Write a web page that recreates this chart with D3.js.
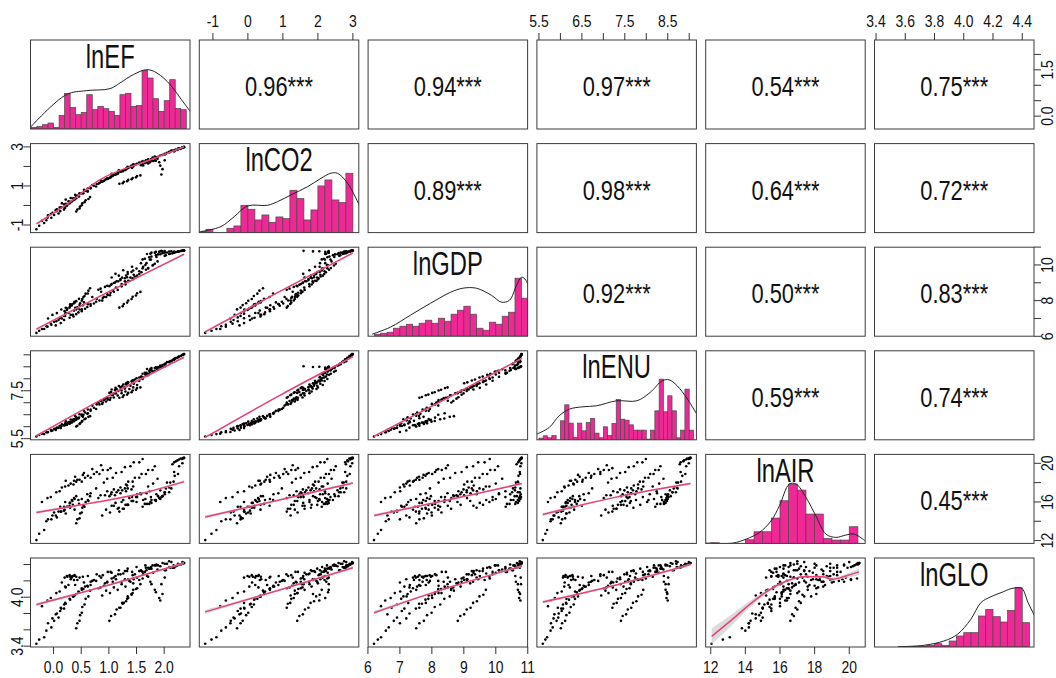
<!DOCTYPE html>
<html>
<head>
<meta charset="utf-8">
<script src="https://cdn.jsdelivr.net/npm/d3@7"></script>
<style>body{margin:0;background:#fff}</style>
</head>
<body>
<div id="chart"></div>
<script>
// variables of the scatterplot matrix
const vars = ["lnEF", "lnCO2", "lnGDP", "lnENU", "lnAIR", "lnGLO"];

const lnEF = [
  -0.31,-0.26,-0.17,-0.13,-0.04,0.01,0.09,0.12,0.19,0.21,
  0.36,0.41,0.51,0.57,0.67,0.73,0.83,0.89,0.98,1.03,
  0.20,0.24,0.25,0.29,0.30,0.33,0.34,0.37,0.38,0.41,
  0.41,0.43,0.47,0.48,0.51,0.52,0.56,0.58,0.63,0.66,
  0.04,0.13,0.19,0.29,0.35,0.45,0.51,0.61,0.67,0.77,
  0.81,0.85,0.93,0.97,1.05,1.09,1.17,1.21,1.29,1.33,
  1.19,1.25,1.27,1.33,1.35,1.41,1.43,1.49,1.51,1.57,
  1.31,1.35,1.43,1.47,1.55,1.59,1.67,1.71,1.79,1.83,
  1.61,1.65,1.73,1.77,1.85,1.89,1.97,2.01,2.09,2.13,
  2.01,2.03,2.09,2.11,2.17,2.19,2.25,2.27,2.33,2.36,
  1.69,1.75,1.77,1.83,1.85,1.91,1.93,1.97,1.95,2.01,
  0.91,0.97,1.07,1.13,1.23,1.29,1.39,1.45,1.55,1.61,
  1.01,1.04,1.11,1.14,1.21,1.24,1.31,1.34,1.41,1.44,
  -0.21,-0.11,-0.05,0.05,0.11,0.21,0.27,0.37,0.43,0.53,
  1.62,1.68,1.71,1.76,1.80,1.86,1.88,1.93,2.05,2.18,
  0.15,0.22,0.31,0.39,0.47,0.55,0.62,0.70,0.78,0.86,
  1.05,1.12,1.18,1.26,1.34,1.42,1.50,1.58,1.66,1.74,
  -0.10,-0.02,0.06,0.14,0.22,0.30,0.38,0.46,0.54,0.62,
  0.88,0.95,1.02,1.09,1.16,1.23,1.30,1.37,1.44,1.51,
  2.15,2.18,2.21,2.24,2.27,2.30,2.32,2.34,2.35,2.36
];
const lnCO2 = [
  -1.22,-1.04,-0.90,-0.76,-0.63,-0.49,-0.41,-0.29,-0.21,-0.11,
  0.36,0.47,0.63,0.75,0.91,1.01,1.15,1.24,1.36,1.43,
  -0.11,-0.01,0.04,0.11,0.14,0.21,0.23,0.29,0.31,0.37,
  -0.31,-0.21,-0.15,-0.05,0.01,0.11,0.17,0.27,0.33,0.43,
  -0.24,-0.11,0.06,0.19,0.36,0.49,0.63,0.73,0.87,0.97,
  1.11,1.19,1.31,1.39,1.51,1.57,1.67,1.73,1.83,1.89,
  1.11,1.14,1.21,1.24,1.31,1.34,1.41,1.44,1.51,1.54,
  1.86,1.92,2.02,2.08,2.18,2.23,2.32,2.37,2.46,2.51,
  2.11,2.17,2.27,2.33,2.43,2.49,2.59,2.65,2.75,2.81,
  2.61,2.64,2.71,2.74,2.81,2.84,2.91,2.93,2.98,3.00,
  2.21,2.24,2.31,2.31,2.29,2.21,2.04,1.86,1.59,2.31,
  1.26,1.37,1.51,1.61,1.75,1.85,1.98,2.07,2.19,2.27,
  1.41,1.47,1.57,1.63,1.73,1.79,1.89,1.95,2.05,2.11,
  -0.79,-0.63,-0.44,-0.29,-0.11,0.04,0.21,0.34,0.51,0.64,
  2.05,2.21,2.15,2.36,2.28,2.47,2.39,2.56,2.70,2.78,
  0.12,0.30,0.38,0.55,0.62,0.80,0.88,1.05,1.10,1.28,
  1.62,1.58,1.80,1.76,1.98,1.92,2.12,2.06,2.26,2.20,
  -0.50,-0.38,-0.20,-0.10,0.08,0.18,0.36,0.46,0.62,0.72,
  1.22,1.34,1.42,1.56,1.62,1.76,1.82,1.96,2.00,2.14,
  2.80,2.78,2.86,2.84,2.92,2.90,2.96,2.95,2.99,2.98
];
const lnGDP = [
  6.19,6.31,6.41,6.56,6.65,6.81,6.91,7.06,7.14,7.26,
  7.11,7.24,7.41,7.54,7.71,7.84,8.01,8.14,8.31,8.44,
  7.41,7.47,7.56,7.61,7.69,7.73,7.81,7.85,7.93,7.97,
  7.51,7.61,7.75,7.85,7.99,8.09,8.26,8.39,8.56,8.69,
  6.61,6.74,6.91,7.04,7.21,7.34,7.51,7.64,7.81,7.94,
  8.61,8.67,8.77,8.83,8.93,8.99,9.09,9.15,9.25,9.31,
  7.61,7.69,7.81,7.89,8.01,8.09,8.21,8.29,8.41,8.49,
  9.01,9.11,9.25,9.35,9.49,9.59,9.73,9.83,9.97,10.07,
  10.31,10.35,10.43,10.47,10.55,10.59,10.66,10.69,10.75,10.77,
  10.51,10.54,10.61,10.63,10.69,10.71,10.76,10.77,10.80,10.81,
  10.61,10.63,10.69,10.69,10.73,10.73,10.77,10.76,10.79,10.78,
  8.21,8.37,8.57,8.73,8.93,9.09,9.29,9.45,9.65,9.81,
  8.81,8.89,9.01,9.09,9.21,9.29,9.41,9.49,9.61,9.69,
  6.41,6.54,6.71,6.84,7.01,7.14,7.31,7.44,7.61,7.74,
  9.90,10.10,9.80,10.30,10.00,10.45,10.20,10.60,10.70,10.75,
  7.00,7.30,7.20,7.60,7.50,7.90,7.80,8.20,8.10,8.50,
  9.30,9.50,9.40,9.70,9.60,9.90,9.80,10.10,10.00,10.30,
  7.00,7.20,7.30,7.50,7.60,7.80,7.90,8.10,8.20,8.40,
  8.00,8.20,8.30,8.50,8.60,8.80,8.90,9.10,9.20,9.40,
  10.65,10.70,10.72,10.74,10.76,10.78,10.79,10.80,10.80,10.81
];
const lnENU = [
  5.59,5.65,5.69,5.77,5.82,5.91,5.95,6.03,6.06,6.13,
  6.31,6.39,6.51,6.59,6.71,6.79,6.93,7.01,7.13,7.21,
  6.06,6.07,6.11,6.12,6.17,6.17,6.22,6.23,6.28,6.29,
  6.01,6.04,6.11,6.14,6.21,6.24,6.31,6.34,6.41,6.44,
  5.86,5.94,6.06,6.14,6.26,6.34,6.46,6.54,6.66,6.74,
  7.01,7.07,7.17,7.23,7.33,7.39,7.49,7.55,7.65,7.71,
  7.21,7.24,7.31,7.34,7.41,7.44,7.51,7.54,7.61,7.64,
  7.81,7.85,7.93,7.97,8.05,8.09,8.17,8.21,8.29,8.33,
  8.21,8.25,8.33,8.37,8.45,8.49,8.57,8.61,8.69,8.73,
  8.61,8.64,8.71,8.74,8.81,8.84,8.91,8.93,8.99,9.03,
  8.41,8.41,8.45,8.45,8.48,8.47,8.50,8.49,8.52,8.51,
  7.11,7.19,7.31,7.39,7.51,7.59,7.71,7.79,7.91,7.99,
  7.41,7.45,7.53,7.57,7.65,7.69,7.77,7.81,7.89,7.93,
  5.71,5.77,5.87,5.93,6.03,6.09,6.19,6.25,6.35,6.41,
  8.05,8.25,8.15,8.35,8.30,8.45,8.40,8.55,8.70,8.80,
  6.10,6.22,6.30,6.45,6.52,6.66,6.72,6.88,6.93,7.08,
  7.55,7.62,7.70,7.76,7.86,7.92,8.02,8.08,8.18,8.24,
  5.78,5.84,5.96,6.02,6.14,6.20,6.32,6.38,6.50,6.56,
  6.95,7.05,7.12,7.22,7.30,7.40,7.47,7.57,7.64,7.74,
  8.78,8.80,8.86,8.88,8.93,8.95,8.99,9.00,9.02,9.03
];
const lnAIR = [
  12.05,12.7,13.1,14.0,14.2,14.9,15.0,15.5,15.5,16.0,
  17.8,18.1,18.1,18.5,18.5,18.9,18.9,19.3,19.3,19.5,
  15.2,15.5,15.5,15.9,15.9,16.2,16.1,16.4,16.3,16.6,
  13.8,14.2,14.3,14.8,14.9,15.4,15.5,16.0,16.1,16.6,
  14.6,15.0,15.1,15.6,15.7,16.2,16.3,16.8,16.9,17.4,
  16.4,16.7,16.7,17.1,17.0,17.3,17.2,17.5,17.4,17.7,
  15.0,15.3,15.3,15.7,15.7,16.1,16.1,16.5,16.5,16.9,
  17.8,18.1,18.1,18.5,18.5,18.9,18.9,19.3,19.3,19.7,
  15.5,15.8,15.8,16.2,16.2,16.6,16.6,17.0,17.0,17.4,
  17.0,17.4,17.5,18.0,18.1,18.7,18.9,19.7,20.0,20.58,
  15.8,16.0,15.9,16.2,16.1,16.4,16.3,16.6,16.5,16.8,
  18.0,18.4,18.5,19.0,19.1,19.6,19.7,20.1,20.1,20.45,
  16.6,16.8,16.7,17.0,16.9,17.2,17.1,17.4,17.3,17.6,
  16.0,16.4,16.5,17.0,17.1,17.6,17.7,18.2,18.3,18.8,
  16.2,16.9,17.6,16.5,17.9,16.8,18.4,17.2,18.0,19.1,
  17.5,18.2,17.9,18.6,18.3,19.0,18.7,19.4,19.1,19.8,
  15.6,15.9,15.4,16.2,15.7,16.5,16.0,16.8,16.3,17.1,
  14.2,14.6,14.4,15.0,14.8,15.4,15.2,15.8,15.6,16.2,
  14.6,15.2,14.9,15.6,15.3,16.0,15.7,16.4,16.1,16.8,
  19.9,20.1,20.2,20.3,20.4,20.5,20.45,20.55,20.5,20.58
];
const lnGLO = [
  3.43,3.48,3.51,3.59,3.63,3.71,3.75,3.83,3.86,3.93,
  4.01,4.04,4.11,4.13,4.19,4.21,4.26,4.27,4.31,4.31,
  4.24,4.26,4.25,4.27,4.25,4.24,4.26,4.26,4.27,4.25,
  3.62,3.68,3.71,3.78,3.81,3.88,3.91,3.98,4.01,4.08,
  3.79,3.87,3.91,3.98,4.01,4.07,4.09,4.14,4.15,4.20,
  4.11,4.12,4.17,4.18,4.23,4.24,4.28,4.28,4.32,4.32,
  3.87,3.92,3.93,3.98,3.99,4.04,4.05,4.10,4.11,4.16,
  4.21,4.22,4.27,4.28,4.32,4.32,4.36,4.36,4.39,4.39,
  4.31,4.31,4.35,4.35,4.39,4.39,4.42,4.41,4.44,4.43,
  4.33,4.33,4.37,4.36,4.39,4.38,4.41,4.40,4.43,4.42,
  4.26,4.19,4.16,4.09,4.06,3.99,3.96,4.04,4.16,4.24,
  4.14,4.19,4.19,4.22,4.19,4.22,4.19,4.22,4.21,4.23,
  3.71,3.77,3.79,3.85,3.87,3.93,3.95,4.01,4.03,4.09,
  3.89,3.96,3.99,4.05,4.07,4.13,4.15,4.21,4.21,4.25,
  4.28,4.33,4.25,4.37,4.30,4.40,4.34,4.38,4.41,4.36,
  4.18,4.12,4.22,4.15,4.24,4.18,4.26,4.20,4.28,4.24,
  4.30,4.26,4.33,4.29,4.35,4.31,4.37,4.33,4.39,4.35,
  3.68,3.74,3.80,3.86,3.92,3.97,4.02,4.06,4.10,4.13,
  4.02,4.08,4.05,4.12,4.09,4.16,4.13,4.20,4.17,4.24,
  4.36,4.37,4.38,4.39,4.40,4.40,4.41,4.41,4.42,4.42
];

// histogram bars on the diagonal (bin start, bin width, bar heights)
const histStart = [-0.4, -1.4, 6.2, 5.5, 12.0, 3.55];
const histStep = [0.1, 0.2, 0.2, 0.1, 0.5, 0.05];
const histEF = [5,8,13,18,5,41,107,65,43,50,103,58,68,61,53,41,103,107,68,71,176,153,91,53,85,148,62,58];
const histCO2 = [3,10,0,0,13,20,82,70,38,53,31,47,42,127,102,38,68,140,158,98,90,178];
const histGDP = [6,9,12,24,30,36,30,39,48,39,54,45,66,78,90,66,24,18,42,36,60,72,174,114];
const histENU = [5,12,6,13,0,57,105,50,7,50,27,52,64,20,6,39,13,49,121,62,59,45,29,29,29,2,29,87,182,84,132,87,6,29,152,29];
const histAIR = [2,0,0,0,11,35,35,76,128,178,160,88,88,15,10,10,50];
const histGLO = [1,1,2,3,5,10,5,18,33,43,43,93,113,91,75,110,178,73];

// density curves on the diagonal [value, height]
const densEF = [[-0.42,5],[0.23,103],[0.59,115],[1.02,121],[1.2,138],[1.44,163],[1.69,178],[1.87,168],[2.11,133],[2.29,93],[2.47,53]];
const densCO2 = [[-1.34,3],[-0.77,18],[-0.39,48],[-0.01,80],[0.56,82],[0.85,93],[1.23,113],[1.71,138],[2.09,163],[2.37,178],[2.56,178],[2.85,148],[3.2,78]];
const densGDP = [[6.13,6],[6.7,27],[7.33,63],[7.96,99],[8.59,132],[8.97,144],[9.39,144],[9.86,123],[10.18,102],[10.43,108],[10.65,153],[10.81,177],[10.94,168],[11.07,132]];
const densENU = [[5.45,17],[5.74,37],[5.97,72],[6.21,92],[6.52,99],[6.84,102],[7.31,117],[7.78,117],[8.09,142],[8.37,177],[8.53,180],[8.72,162],[8.96,122],[9.2,72]];
const densAIR = [[11.75,1],[13.28,1],[14.05,13],[14.82,33],[15.49,68],[15.97,113],[16.54,178],[16.93,178],[17.5,138],[18.07,83],[18.65,28],[19.22,18],[19.8,25],[20.28,28],[20.91,8]];
const densGLO = [[3.554,1],[3.726,5],[3.864,18],[3.957,38],[4.048,83],[4.117,133],[4.186,151],[4.255,163],[4.324,175],[4.37,178],[4.4,175],[4.44,133],[4.485,93]];

// smoothing lines in the lower panels [x, y, band half-width]
const smoothLines = [
  {x: "lnEF", y: "lnCO2", pts: [[-0.31,-0.94,0.05],[0.23,0.04,0.02],[0.84,1.32,0.02],[1.75,2.34,0.02],[2.36,3.0,0.04]]},
  {x: "lnEF", y: "lnGDP", pts: [[-0.31,6.4,0.06],[1.0,8.5,0.03],[2.36,10.6,0.05]]},
  {x: "lnEF", y: "lnENU", pts: [[-0.31,5.62,0.04],[1.0,7.3,0.02],[2.36,8.9,0.03]]},
  {x: "lnEF", y: "lnAIR", pts: [[-0.31,14.9,0.15],[0.5,15.7,0.08],[1.0,16.2,0.08],[1.6,16.9,0.08],[2.36,18.1,0.15]]},
  {x: "lnEF", y: "lnGLO", pts: [[-0.31,3.91,0.02],[1.0,4.15,0.01],[2.36,4.42,0.015]]},
  {x: "lnCO2", y: "lnGDP", pts: [[-1.22,6.25,0.07],[0.9,8.5,0.03],[3.0,10.67,0.05]]},
  {x: "lnCO2", y: "lnENU", pts: [[-1.22,5.55,0.04],[0.9,7.3,0.02],[3.0,8.92,0.03]]},
  {x: "lnCO2", y: "lnAIR", pts: [[-1.22,14.44,0.15],[0.9,16.2,0.08],[3.0,17.96,0.12]]},
  {x: "lnCO2", y: "lnGLO", pts: [[-1.22,3.82,0.025],[1.0,4.1,0.01],[3.0,4.36,0.015]]},
  {x: "lnGDP", y: "lnENU", pts: [[6.19,5.6,0.04],[8.5,7.2,0.02],[10.81,8.85,0.03]]},
  {x: "lnGDP", y: "lnAIR", pts: [[6.19,14.6,0.15],[8.5,16.2,0.08],[10.81,17.9,0.12]]},
  {x: "lnGDP", y: "lnGLO", pts: [[6.19,3.81,0.02],[8.3,4.09,0.01],[10.81,4.38,0.015]]},
  {x: "lnENU", y: "lnAIR", pts: [[5.59,14.7,0.15],[7.3,16.5,0.08],[9.03,17.9,0.12]]},
  {x: "lnENU", y: "lnGLO", pts: [[5.59,3.94,0.02],[7.3,4.15,0.01],[9.03,4.4,0.015]]},
  {x: "lnAIR", y: "lnGLO", pts: [[12.05,3.52,0.1],[13.09,3.7,0.07],[14.24,3.91,0.04],[15.39,4.09,0.02],[16.54,4.21,0.01],[17.3,4.25,0.01],[18.45,4.25,0.015],[19.02,4.22,0.02],[19.8,4.26,0.025],[20.56,4.31,0.04]]}
];

// correlation coefficients in the upper panels, row by row
const corrValues = [0.96,0.94,0.97,0.54,0.75, 0.89,0.98,0.64,0.72, 0.92,0.50,0.83, 0.59,0.74, 0.45];
const corrStars = ["***","***","***","***","***", "***","***","***","***", "***","***","***", "***","***", "***"];

// axis ticks and labels
const axisTicks = [[0,0.5,1,1.5,2], [-1,0,1,2,3], [6,7,8,9,10,11], [5.5,6,6.5,7,7.5,8,8.5,9], [12,14,16,18,20], [3.4,3.6,3.8,4.0,4.2,4.4]];
const xLabels = [[0,0.5,1,1.5,2], [-1,0,1,2,3], [6,7,8,9,10,11], [5.5,6.5,7.5,8.5], [12,14,16,18,20], [3.4,3.6,3.8,4.0,4.2,4.4]];
const yLabels = [[0,1.5], [-1,1,3], [6,8,10], [5.5,7.5], [12,16,20], [3.4,4.0]];
const labelFormat = [".1f", "d", "d", ".1f", "d", ".1f"];

const W = 1056, H = 678;
const left = 30.5, top0 = 40, stepX = 168.8, stepY = 103.6, pw = 159.5, ph = 89;
const font = "Liberation Sans, Arial, sans-serif";
const pink = "#ef2896";

const series = {lnEF, lnCO2, lnGDP, lnENU, lnAIR, lnGLO};
const hists = [histEF, histCO2, histGDP, histENU, histAIR, histGLO];
const dens = [densEF, densCO2, densGDP, densENU, densAIR, densGLO];
const n = lnEF.length;

const svg = d3.select("#chart").append("svg")
    .attr("width", W)
    .attr("height", H);

// scales (4% padding like base R)
let xs = {}, ys = {};
vars.forEach(function (v, i) {
    let ext = d3.extent(series[v]);
    let pad = (ext[1] - ext[0]) * 0.04;
    xs[v] = d3.scaleLinear().domain([ext[0] - pad, ext[1] + pad]).range([left + i * stepX, left + i * stepX + pw]);
    ys[v] = d3.scaleLinear().domain([ext[0] - pad, ext[1] + pad]).range([top0 + i * stepY + ph, top0 + i * stepY]);
});

function label(x, y, str, size, rot, sx) {
    svg.append("text")
        .attr("transform", "translate(" + x + "," + y + ") rotate(" + (rot || 0) + ") scale(" + (sx || 0.82) + ",1)")
        .attr("text-anchor", "middle")
        .attr("font-family", font)
        .attr("font-size", size)
        .attr("fill", "#111")
        .text(str);
}

let defs = svg.append("defs");

for (let r = 0; r < 6; r++) {
    for (let c = 0; c < 6; c++) {
        let x0 = left + c * stepX, y0 = top0 + r * stepY;
        let id = "clip" + r + c;
        defs.append("clipPath").attr("id", id)
            .append("rect").attr("x", x0).attr("y", y0).attr("width", pw).attr("height", ph);
        let g = svg.append("g").attr("clip-path", "url(#" + id + ")");

        if (r == c) {
            // histogram + density
            let xsc = xs[vars[c]];
            let ysc = d3.scaleLinear().domain([0, 267]).range([y0 + ph, y0]);
            let bars = hists[c].map(function (h, k) {
                return {x0: histStart[c] + k * histStep[c], x1: histStart[c] + (k + 1) * histStep[c], h: h};
            });
            g.selectAll(".bar").data(bars).enter().append("rect")
                .attr("x", d => xsc(d.x0))
                .attr("width", d => xsc(d.x1) - xsc(d.x0))
                .attr("y", d => ysc(d.h))
                .attr("height", d => y0 + ph - ysc(d.h))
                .attr("fill", pink)
                .attr("stroke", "#4a4a4a")
                .attr("stroke-width", 0.7);
            let densLine = d3.line()
                .x(d => xsc(d[0]))
                .y(d => ysc(d[1]))
                .curve(d3.curveCatmullRom);
            g.append("path").attr("d", densLine(dens[c]))
                .attr("fill", "none").attr("stroke", "#222").attr("stroke-width", 1);
            label(x0 + pw / 2, y0 + 27.5, vars[c], 33, 0, 0.72);
        } else if (r > c) {
            // scatter + smoothing line
            let xsc = xs[vars[c]], ysc = ys[vars[r]];
            let xv = series[vars[c]], yv = series[vars[r]];
            let pts = d3.range(n).map(k => [xv[k], yv[k]]);
            g.selectAll(".pt").data(pts).enter().append("circle")
                .attr("cx", d => xsc(d[0]))
                .attr("cy", d => ysc(d[1]))
                .attr("r", 1.3)
                .attr("fill", "#000");
            let sm = smoothLines.find(s => s.x == vars[c] && s.y == vars[r]);
            let band = d3.area()
                .x(d => xsc(d[0]))
                .y0(d => ysc(d[1] - d[2]))
                .y1(d => ysc(d[1] + d[2]))
                .curve(d3.curveMonotoneX);
            g.append("path").attr("d", band(sm.pts)).attr("fill", "#cfcfcf").attr("opacity", 0.75);
            let smLine = d3.line()
                .x(d => xsc(d[0]))
                .y(d => ysc(d[1]))
                .curve(d3.curveMonotoneX);
            g.append("path").attr("d", smLine(sm.pts))
                .attr("fill", "none").attr("stroke", "#e8407a").attr("stroke-width", 1.5);
        } else {
            // correlation text
            let idx = 0;
            for (let rr = 0; rr < r; rr++) idx += 5 - rr;
            idx += c - r - 1;
            label(x0 + pw / 2, y0 + ph / 2 + 11.5, d3.format(".2f")(corrValues[idx]) + corrStars[idx], 27, 0, 0.81);
        }

        svg.append("rect")
            .attr("x", x0).attr("y", y0).attr("width", pw).attr("height", ph)
            .attr("fill", "none").attr("stroke", "#3c3c3c").attr("stroke-width", 1);
    }
}

// outer axes
function fmt(i, v) {
    return d3.format(labelFormat[i])(v).replace("\u2212", "-");
}
let bottomY = top0 + 5 * stepY + ph;
let rightX = left + 5 * stepX + pw;
vars.forEach(function (v, i) {
    let xsc = xs[v], ysc = ys[v];
    if (i % 2 == 1) {
        // top axis
        axisTicks[i].forEach(t => svg.append("line")
            .attr("x1", xsc(t)).attr("x2", xsc(t)).attr("y1", top0).attr("y2", top0 - 7)
            .attr("stroke", "#333"));
        xLabels[i].forEach(t => label(xsc(t), top0 - 13, fmt(i, t), 17));
        // left axis
        axisTicks[i].forEach(t => svg.append("line")
            .attr("x1", left).attr("x2", left - 7).attr("y1", ysc(t)).attr("y2", ysc(t))
            .attr("stroke", "#333"));
        yLabels[i].forEach(t => label(left - 7.5, ysc(t), fmt(i, t), 17, -90));
    } else {
        // bottom axis
        axisTicks[i].forEach(t => svg.append("line")
            .attr("x1", xsc(t)).attr("x2", xsc(t)).attr("y1", bottomY).attr("y2", bottomY + 7)
            .attr("stroke", "#333"));
        xLabels[i].forEach(t => label(xsc(t), bottomY + 26, fmt(i, t), 17));
        // right axis
        axisTicks[i].forEach(t => svg.append("line")
            .attr("x1", rightX).attr("x2", rightX + 7).attr("y1", ysc(t)).attr("y2", ysc(t))
            .attr("stroke", "#333"));
        yLabels[i].forEach(t => label(rightX + 19, ysc(t), fmt(i, t), 17, -90));
    }
});
</script>
</body>
</html>
